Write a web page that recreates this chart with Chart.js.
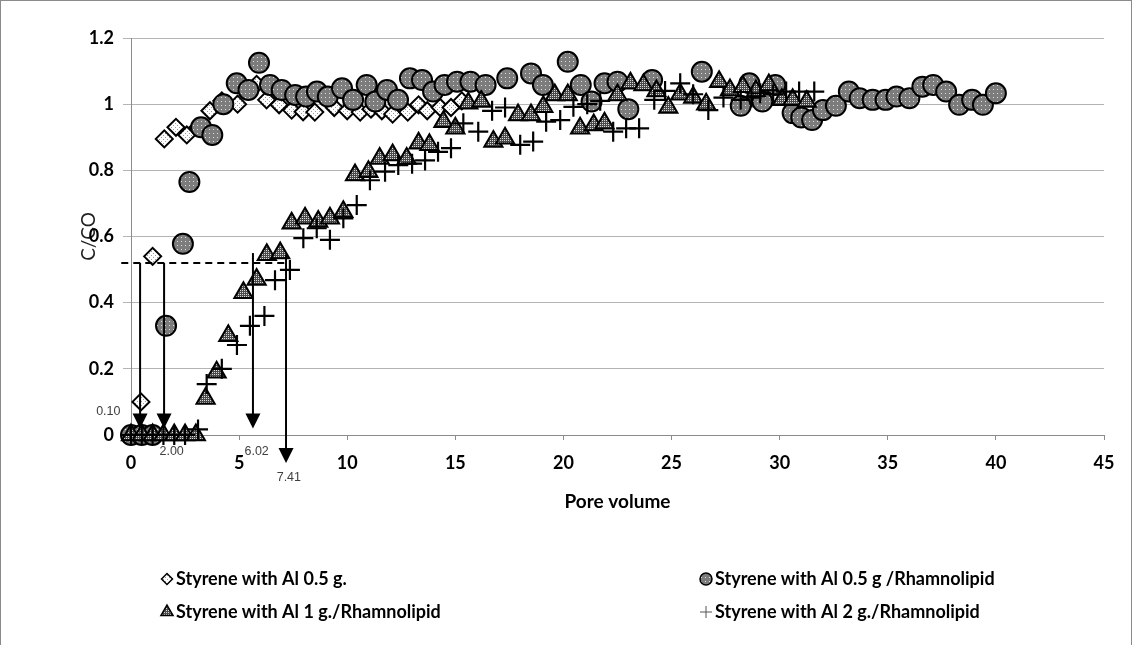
<!DOCTYPE html>
<html><head><meta charset="utf-8">
<script src="https://cdn.jsdelivr.net/npm/chart.js@4/dist/chart.umd.min.js"></script>
<style>html,body{margin:0;padding:0;background:#fff;}#wrap{width:1134px;height:645px;position:relative;}</style>
</head><body><div id="wrap"><canvas id="c" width="1134" height="645"></canvas></div>
<script>
// ---------- DATA ----------
const seriesNames = ['Styrene with Al 0.5 g.', 'Styrene with Al 0.5 g /Rhamnolipid', 'Styrene with Al 1 g./Rhamnolipid', 'Styrene with Al 2 g./Rhamnolipid'];

const al05X = [0, 0.46, 1.0, 1.54, 2.08, 2.58, 3.1, 3.65, 4.2, 4.93, 5.81, 6.27, 6.85, 7.43, 7.96, 8.5, 9.4, 10.0, 10.6, 11.1, 11.6, 12.1, 12.8, 13.3, 13.7, 14.3, 14.8, 15.3];
const al05Y = [0, 0.10, 0.54, 0.895, 0.93, 0.907, 0.93, 0.98, 1.01, 1.0, 1.06, 1.013, 0.998, 0.982, 0.977, 0.976, 0.99, 0.98, 0.976, 0.985, 0.98, 0.97, 0.976, 0.998, 0.98, 0.99, 0.99, 1.01];

const al05RhX = [0, 0.5, 1.0, 1.62, 2.4, 2.7, 3.24, 3.76, 4.27, 4.89, 5.43, 5.92, 6.43, 6.97, 7.59, 8.1, 8.6, 9.1, 9.76, 10.27, 10.9, 11.3, 11.84, 12.35, 12.9, 13.46, 13.97, 14.5, 15.08, 15.7, 16.4, 17.4, 18.5, 19.05, 20.2, 20.8, 21.3, 21.9, 22.5, 23.0, 24.1, 26.4, 28.2, 28.6, 29.2, 29.8, 30.6, 31.0, 31.5, 32.0, 32.6, 33.2, 33.7, 34.3, 34.9, 35.4, 36.0, 36.6, 37.1, 37.7, 38.3, 38.9, 39.4, 40.0];
const al05RhY = [0, 0, 0, 0.33, 0.578, 0.765, 0.93, 0.907, 1.0, 1.063, 1.043, 1.125, 1.058, 1.043, 1.028, 1.023, 1.038, 1.023, 1.048, 1.013, 1.058, 1.008, 1.043, 1.013, 1.078, 1.073, 1.038, 1.058, 1.068, 1.068, 1.058, 1.078, 1.093, 1.058, 1.128, 1.058, 1.008, 1.063, 1.068, 0.985, 1.073, 1.098, 0.995, 1.063, 1.008, 1.058, 0.973, 0.96, 0.952, 0.982, 0.995, 1.038, 1.018, 1.013, 1.013, 1.023, 1.018, 1.053, 1.058, 1.038, 0.998, 1.013, 0.998, 1.033];

const al1RhX = [0, 0.5, 1.0, 1.5, 2.0, 2.5, 3.0, 3.45, 3.96, 4.5, 5.2, 5.81, 6.28, 6.9, 7.43, 8.05, 8.66, 9.2, 9.82, 10.36, 10.98, 11.5, 12.1, 12.75, 13.3, 13.8, 14.45, 15.0, 15.6, 16.2, 16.76, 17.3, 17.9, 18.5, 19.07, 19.6, 20.2, 20.77, 21.4, 21.9, 22.5, 23.1, 23.7, 24.3, 24.85, 25.4, 26.0, 26.6, 27.2, 27.7, 28.3, 28.9, 29.5, 30.1, 30.6, 31.25];
const al1RhY = [0, 0, 0, 0, 0, 0, 0, 0.11, 0.19, 0.30, 0.43, 0.47, 0.545, 0.55, 0.64, 0.655, 0.645, 0.655, 0.675, 0.786, 0.796, 0.836, 0.846, 0.836, 0.882, 0.877, 0.947, 0.927, 1.003, 1.008, 0.887, 0.897, 0.967, 0.967, 0.992, 1.028, 1.028, 0.927, 0.937, 0.942, 1.028, 1.063, 1.058, 1.04, 0.99, 1.03, 1.02, 1.0, 1.068, 1.043, 1.053, 1.04, 1.058, 1.013, 1.013, 1.008];

const al2RhX = [0, 0.5, 1.0, 1.5, 2.0, 2.5, 3.1, 3.5, 4.2, 4.9, 5.5, 6.17, 6.66, 7.35, 7.97, 8.59, 9.2, 9.82, 10.44, 11.05, 11.75, 12.36, 13.0, 13.6, 14.2, 14.8, 15.37, 16.06, 16.7, 17.3, 18.0, 18.6, 19.2, 19.85, 20.46, 21.1, 21.7, 22.3, 22.9, 23.5, 24.2, 24.7, 25.4, 26.0, 26.7, 27.4, 28.2, 28.7, 29.1, 29.7, 30.3, 30.9, 31.6];
const al2RhY = [0, 0, 0, 0, 0, 0, 0.017, 0.154, 0.2, 0.272, 0.33, 0.36, 0.468, 0.499, 0.595, 0.625, 0.59, 0.655, 0.695, 0.77, 0.796, 0.816, 0.82, 0.83, 0.856, 0.867, 0.942, 0.917, 0.98, 0.99, 0.877, 0.887, 0.947, 0.952, 0.992, 1.0, 1.01, 0.917, 0.927, 0.927, 1.013, 1.04, 1.063, 1.03, 0.982, 1.02, 1.013, 1.02, 1.033, 1.03, 1.038, 1.038, 1.038];

const xTicks = [0, 5, 10, 15, 20, 25, 30, 35, 40, 45];
const yTicks = [0, 0.2, 0.4, 0.6, 0.8, 1.0, 1.2];

// annotation guide (dashed line at C/C0 = 0.52) and arrows
const guideLevel = 0.52;
const guideFrom = -0.45;
const guideTo = 7.3;
const arrowAt = [0.42, 1.53, 5.64, 7.17];
const arrowFrom = [0.52, 0.52, 0.55, 0.545];
const arrowTo = [0.02, 0.02, 0.02, -0.085];
const arrowText = ['0.10', '2.00', '6.02', '7.41'];
const arrowTextX = [-1.05, 1.88, 5.81, 7.3];
const arrowTextY = [0.07, -0.05, -0.05, -0.13];

// ---------- helpers ----------
function toPts(xs, ys) { return xs.map((x, i) => ({x: x, y: ys[i]})); }
function makePattern(base, dot, cells) {
  const c = document.createElement('canvas'); c.width = 4; c.height = 4;
  const g = c.getContext('2d'); g.fillStyle = base; g.fillRect(0, 0, 4, 4);
  g.fillStyle = dot; cells.forEach(p => g.fillRect(p[0], p[1], 1, 1));
  return g.createPattern(c, 'repeat');
}
const pDiamond = makePattern('#ffffff', '#9a9a9a', [[1,1],[3,3]]);
const pCircle = makePattern('#7c7c7c', '#e0e0e0', [[1,1]]);
const pTriangle = makePattern('#4a4a4a', '#dcdcdc', [[0,0],[2,2],[2,0],[0,2]]);

const FONT = 'Lato, "Open Sans", "Liberation Sans", sans-serif';

const styles = [
  {pointStyle: 'rectRot', radius: 8.5, fill: pDiamond, bw: 2},
  {pointStyle: 'circle', radius: 10, fill: pCircle, bw: 2},
  {pointStyle: 'triangle', radius: 10.5, fill: pTriangle, bw: 2},
  {pointStyle: 'cross', radius: 10, fill: '#000', bw: 2.2}
];
const seriesPts = [toPts(al05X, al05Y), toPts(al05RhX, al05RhY), toPts(al1RhX, al1RhY), toPts(al2RhX, al2RhY)];

const datasets = seriesPts.map((pts, i) => ({
  label: seriesNames[i], data: pts, showLine: false, clip: false,
  pointStyle: styles[i].pointStyle, pointRadius: styles[i].radius, pointHoverRadius: styles[i].radius,
  backgroundColor: styles[i].fill, borderColor: '#000', pointBorderWidth: styles[i].bw, borderWidth: styles[i].bw,
  order: 4 - i
}));

const annotPlugin = {
  id: 'annot',
  afterDatasetsDraw(chart) {
    const {ctx, scales: {x, y}} = chart;
    ctx.save();
    ctx.strokeStyle = '#000'; ctx.lineWidth = 2;
    ctx.setLineDash([7, 5]);
    ctx.beginPath();
    ctx.moveTo(x.getPixelForValue(guideFrom), y.getPixelForValue(guideLevel));
    ctx.lineTo(x.getPixelForValue(guideTo), y.getPixelForValue(guideLevel));
    ctx.stroke();
    ctx.setLineDash([]);
    arrowAt.forEach((v, i) => {
      const px = x.getPixelForValue(v);
      const y0 = y.getPixelForValue(arrowFrom[i]);
      const y1 = y.getPixelForValue(arrowTo[i]);
      ctx.beginPath(); ctx.moveTo(px, y0); ctx.lineTo(px, y1 - 12); ctx.stroke();
      ctx.beginPath(); ctx.moveTo(px - 7.5, y1 - 15); ctx.lineTo(px + 7.5, y1 - 15); ctx.lineTo(px, y1); ctx.closePath();
      ctx.fillStyle = '#000'; ctx.fill();
      ctx.fillStyle = '#404040'; ctx.font = '12.5px "Liberation Sans", Arial, sans-serif';
      ctx.textAlign = 'center'; ctx.textBaseline = 'middle';
      ctx.fillText(arrowText[i], x.getPixelForValue(arrowTextX[i]), y.getPixelForValue(arrowTextY[i]));
    });
    ctx.restore();
  }
};

const legendPlugin = {
  id: 'customLegend',
  afterDraw(chart) {
    const ctx = chart.ctx;
    const cols = [167, 706];
    const rows = [579, 612];
    const lsize = [5.5, 6, 7, 6];
    ctx.save();
    seriesNames.forEach((name, i) => {
      const cx = cols[i % 2], cy = rows[Math.floor(i / 2)];
      ctx.fillStyle = styles[i].fill; ctx.strokeStyle = i === 3 ? '#555' : '#000';
      ctx.lineWidth = i === 3 ? 1 : 1.5;
      Chart.helpers.drawPoint(ctx, {pointStyle: styles[i].pointStyle, radius: lsize[i], rotation: 0, borderWidth: ctx.lineWidth}, cx, cy);
      ctx.fillStyle = '#000'; ctx.font = 'bold 18px ' + FONT;
      ctx.textAlign = 'left'; ctx.textBaseline = 'middle';
      ctx.fillText(name, cx + 9, cy);
    });
    // outer frame
    ctx.strokeStyle = '#8a8a8a'; ctx.lineWidth = 1;
    ctx.strokeRect(0.5, 0.5, 1131, 700);
    ctx.restore();
  }
};

new Chart(document.getElementById('c'), {
  type: 'scatter',
  data: {datasets: datasets},
  options: {
    responsive: false, animation: false,
    layout: {padding: {left: 75, right: 30, top: 38, bottom: 130}},
    plugins: {legend: {display: false}, tooltip: {enabled: false}},
    scales: {
      x: {
        type: 'linear', min: 0, max: 45,
        afterBuildTicks: s => { s.ticks = xTicks.map(v => ({value: v})); },
        afterFit: s => { s.height = 80; },
        ticks: {color: '#000', font: {family: FONT, size: 18, weight: 'bold'}, padding: 12},
        grid: {drawOnChartArea: false, drawTicks: true, tickLength: 5, color: '#8c8c8c'},
        border: {color: '#8c8c8c'},
        title: {display: true, text: 'Pore volume', color: '#000', font: {family: FONT, size: 19, weight: 'bold'}, padding: {top: 4, bottom: 2}}
      },
      y: {
        type: 'linear', min: 0, max: 1.2,
        afterBuildTicks: s => { s.ticks = yTicks.map(v => ({value: v})); },
        afterFit: s => { s.width = 56; },
        ticks: {color: '#000', font: {family: FONT, size: 18, weight: 'bold'}, padding: 9,
                callback: v => String(Number(v.toFixed(1)))},
        grid: {color: '#b4b4b4', tickLength: 8, lineWidth: 1},
        border: {color: '#8c8c8c'},
        title: {display: true, text: 'C/CO', color: '#222', font: {family: FONT, size: 19}, padding: {top: 2, bottom: 2}}
      }
    }
  },
  plugins: [annotPlugin, legendPlugin]
});
</script></body></html>
